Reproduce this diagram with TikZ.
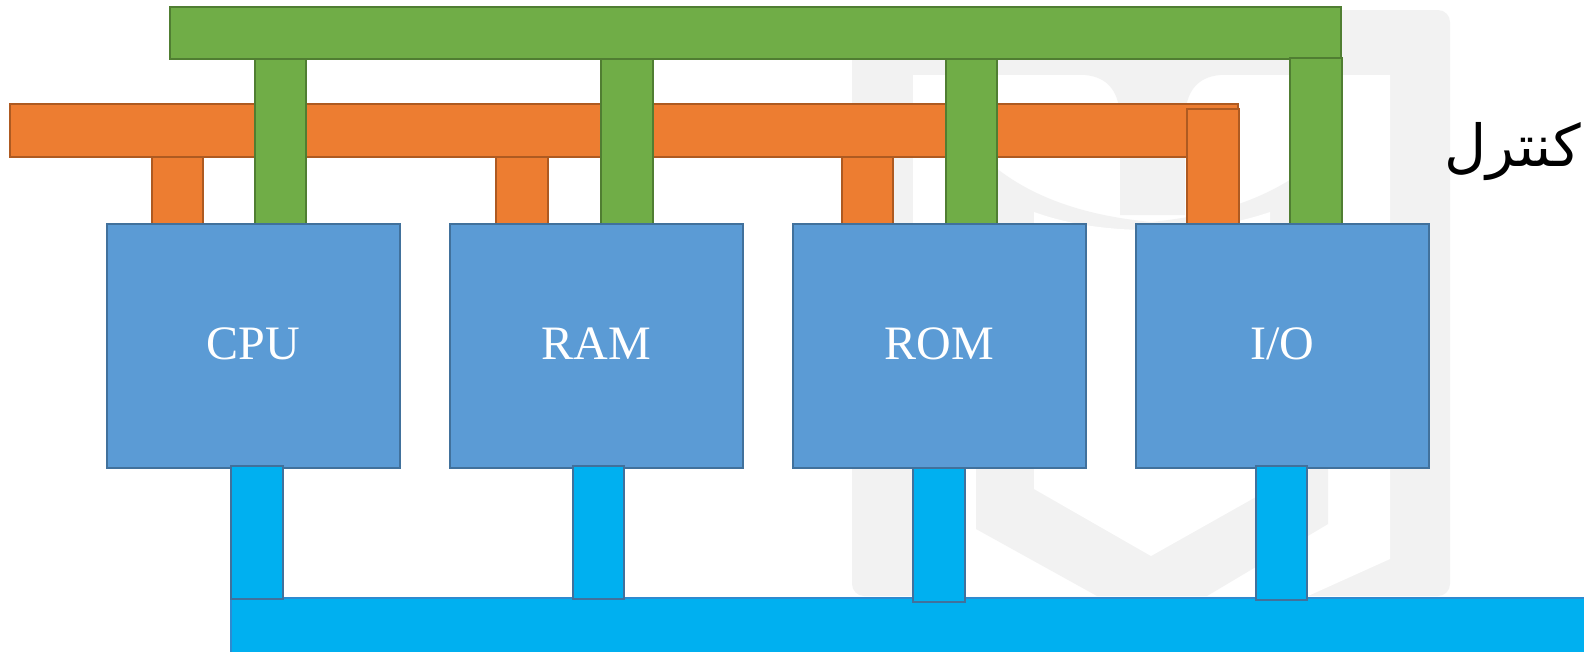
\documentclass[tikz,border=0pt]{standalone}
\usepackage{fontspec}
\setmainfont{Liberation Serif}
\newfontfamily\arabicfont[Script=Arabic]{DejaVu Sans}
\TeXXeTstate=1
\definecolor{gfill}{HTML}{70AD47}
\definecolor{gline}{HTML}{507E32}
\definecolor{ofill}{HTML}{ED7D31}
\definecolor{oline}{HTML}{AE5A21}
\definecolor{bfill}{HTML}{5B9BD5}
\definecolor{bline}{HTML}{41719C}
\definecolor{cfill}{HTML}{00B0F0}
\definecolor{cbarline}{HTML}{2E8BD0}
\definecolor{wmark}{HTML}{F2F2F2}
\tikzset{
  shp/.style={line width=2pt, inner sep=0pt, outer sep=0pt, anchor=north west},
  gbar/.style={shp, draw=gline, fill=gfill},
  obar/.style={shp, draw=oline, fill=ofill},
  cbar/.style={shp, draw=cbarline, fill=cfill},
  unit/.style={shp, draw=bline, fill=bfill, minimum width=293pt, minimum height=243.4pt},
  gstub/.style={draw=gline, fill=gfill, line width=2pt},
  ostub/.style={draw=oline, fill=ofill, line width=2pt},
  cstub/.style={draw=bline, fill=cfill, line width=2pt},
  lbl/.style={text=white, font=\fontsize{48}{50}\selectfont, inner sep=0pt, text depth=0pt},
}
\begin{document}
\begin{tikzpicture}[x=1pt,y=-1pt]
\useasboundingbox (0,0) rectangle (1584,651);
\begin{scope}
\clip (0,0) rectangle (1584,651);
% faint watermark logo
\fill[wmark, rounded corners=12pt] (852,10) rectangle (1450,596);
\fill[white] (913,75) -- (1390,75) -- (1390,559) -- (1308,596) -- (913,596) -- cycle;
\fill[wmark] (1085,75) .. controls (1108,77) and (1120,92) .. (1120,120) -- (1120,215)
   -- (1185,215) -- (1185,120) .. controls (1185,92) and (1197,77) .. (1220,75) -- cycle;
\fill[wmark] (976,150) .. controls (1020,195) and (1080,215) .. (1151,222)
   .. controls (1222,215) and (1282,195) .. (1328,150) -- (1328,524) -- (1207,596)
   -- (1097,596) -- (976,529) -- cycle;
\fill[white] (1034,212) .. controls (1070,225) and (1110,230) .. (1151,230)
   .. controls (1192,230) and (1232,225) .. (1270,212) -- (1270,489) -- (1151,556)
   -- (1034,489) -- cycle;

% buses
\node[gbar, minimum width=1171pt, minimum height=52pt] (gbus) at (170,7) {};
\node[obar, minimum width=1228pt, minimum height=52.5pt] (obus) at (9.5,104) {};
% green stubs
\draw[gstub] (254.6,59) rectangle (306.1,223.5);
\draw[gstub] (601,59) rectangle (652.5,223.5);
\draw[gstub] (945.5,59) rectangle (997,223.5);
\draw[gstub] (1290,57.6) rectangle (1341.5,223.5);
% orange stubs
\draw[ostub] (151.5,156.5) rectangle (203,224);
\draw[ostub] (496,156.5) rectangle (547.5,224);
\draw[ostub] (841.5,156.5) rectangle (893,224);
\draw[ostub] (1187,109) rectangle (1238.5,224);
% units
\node[unit] (cpu) at (107,224.3) {};
\node[unit] (ram) at (449.5,224.3) {};
\node[unit] (rom) at (793,224.3) {};
\node[unit] (io) at (1135.5,224.3) {};
\node[lbl] (cpul) at ([yshift=2.5pt]cpu.center) {CPU};
\node[lbl] (raml) at ([yshift=2.5pt]ram.center) {RAM};
\node[lbl] (roml) at ([yshift=2.5pt]rom.center) {ROM};
\node[lbl] (iol) at ([yshift=2.5pt]io.center) {I/O};
% data bus
\node[cbar, minimum width=1400pt, minimum height=60pt] (cbus) at (231.3,598) {};
\draw[cstub] (231.3,465.7) rectangle (282.8,599);
\draw[cstub] (572.8,465.7) rectangle (624.3,599);
\draw[cstub] (913.2,467.7) rectangle (964.7,602);
\draw[cstub] (1255.7,465.7) rectangle (1307.2,600);
% label
\node[anchor=base east, inner sep=0pt, font=\arabicfont\fontsize{58}{62}\selectfont] (ctl) at (1581,166) {\beginR کنترل\endR};
\end{scope}
\end{tikzpicture}
\end{document}
